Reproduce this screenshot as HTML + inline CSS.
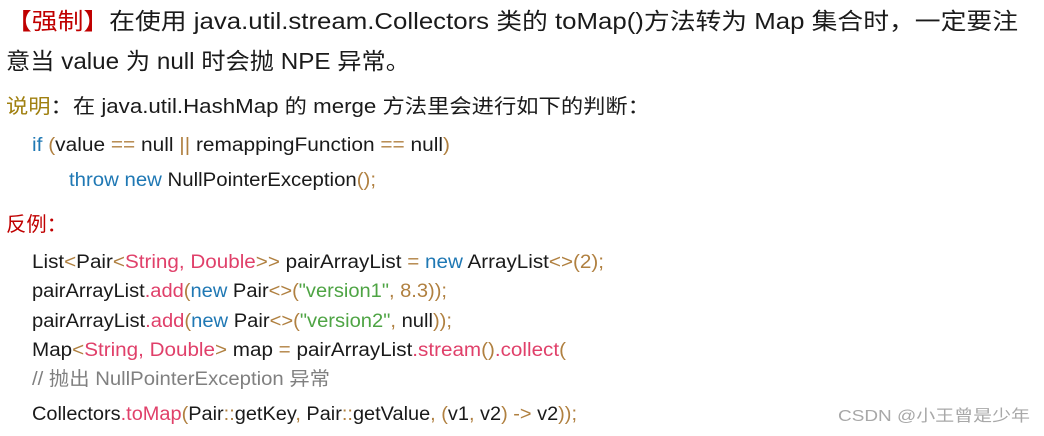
<!DOCTYPE html>
<html><head><meta charset="utf-8"><style>
html,body{margin:0;padding:0;background:#fff;width:1044px;height:436px;overflow:hidden}
text{font-family:"Liberation Sans","Noto Sans CJK SC",sans-serif;fill:#1a1a1a}
.r{fill:#c00000}.g{fill:#a08010}.k{fill:#1f78b4}.p{fill:#e0406a}.s{fill:#4ea444}.o{fill:#b08040}.c{fill:#808080}
</style></head><body>
<svg width="1044" height="436" xmlns="http://www.w3.org/2000/svg">
<text x="6" y="29" font-size="23" textLength="1012" lengthAdjust="spacingAndGlyphs"><tspan class="r">【强制】</tspan>在使用 java.util.stream.Collectors 类的 toMap()方法转为 Map 集合时，一定要注</text>
<text x="6" y="69" font-size="23" textLength="404" lengthAdjust="spacingAndGlyphs">意当 value 为 null 时会抛 NPE 异常。</text>
<text x="6" y="113" font-size="20" textLength="644" lengthAdjust="spacingAndGlyphs"><tspan class="g">说明</tspan>：在 java.util.HashMap 的 merge 方法里会进行如下的判断：</text>
<text x="32" y="151" font-size="19" textLength="418" lengthAdjust="spacingAndGlyphs"><tspan class="k">if</tspan> <tspan class="o">(</tspan>value <tspan class="o">==</tspan> null <tspan class="o">||</tspan> remappingFunction <tspan class="o">==</tspan> null<tspan class="o">)</tspan></text>
<text x="69" y="186" font-size="19" textLength="307" lengthAdjust="spacingAndGlyphs"><tspan class="k">throw new</tspan> NullPointerException<tspan class="o">();</tspan></text>
<text x="6" y="231" font-size="20" class="r" textLength="61" lengthAdjust="spacingAndGlyphs">反例：</text>
<text x="32" y="268" font-size="19" textLength="572" lengthAdjust="spacingAndGlyphs">List<tspan class="o">&lt;</tspan>Pair<tspan class="o">&lt;</tspan><tspan class="p">String, Double</tspan><tspan class="o">&gt;&gt;</tspan> pairArrayList <tspan class="o">=</tspan> <tspan class="k">new</tspan> ArrayList<tspan class="o">&lt;&gt;(2);</tspan></text>
<text x="32" y="297" font-size="19" textLength="415" lengthAdjust="spacingAndGlyphs">pairArrayList<tspan class="p">.add</tspan><tspan class="o">(</tspan><tspan class="k">new</tspan> Pair<tspan class="o">&lt;&gt;(</tspan><tspan class="s">"version1"</tspan><tspan class="o">, 8.3));</tspan></text>
<text x="32" y="327" font-size="19" textLength="420" lengthAdjust="spacingAndGlyphs">pairArrayList<tspan class="p">.add</tspan><tspan class="o">(</tspan><tspan class="k">new</tspan> Pair<tspan class="o">&lt;&gt;(</tspan><tspan class="s">"version2"</tspan><tspan class="o">, </tspan>null<tspan class="o">));</tspan></text>
<text x="32" y="356" font-size="19" textLength="534" lengthAdjust="spacingAndGlyphs">Map<tspan class="o">&lt;</tspan><tspan class="p">String, Double</tspan><tspan class="o">&gt;</tspan> map <tspan class="o">=</tspan> pairArrayList<tspan class="p">.stream</tspan><tspan class="o">()</tspan><tspan class="p">.collect</tspan><tspan class="o">(</tspan></text>
<text x="32" y="385" font-size="19" class="c" textLength="298" lengthAdjust="spacingAndGlyphs">// 抛出 NullPointerException 异常</text>
<text x="32" y="420" font-size="19" textLength="545" lengthAdjust="spacingAndGlyphs">Collectors<tspan class="p">.toMap</tspan><tspan class="o">(</tspan>Pair<tspan class="o">::</tspan>getKey<tspan class="o">, </tspan>Pair<tspan class="o">::</tspan>getValue<tspan class="o">, (</tspan>v1<tspan class="o">, </tspan>v2<tspan class="o">) -&gt; </tspan>v2<tspan class="o">));</tspan></text>
<text x="838" y="421" font-size="16" style="fill:#a8a8a8" textLength="192" lengthAdjust="spacingAndGlyphs">CSDN @小王曾是少年</text>
</svg>
</body></html>
